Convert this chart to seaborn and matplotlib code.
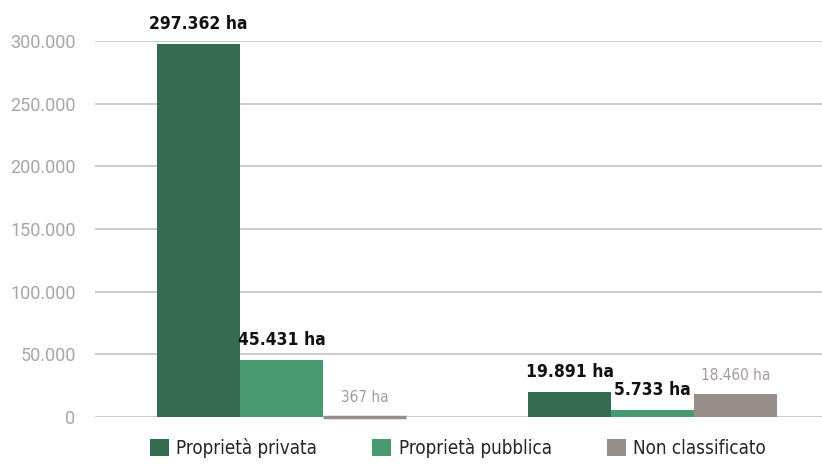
import matplotlib
matplotlib.use("Agg")
import matplotlib.pyplot as plt
import seaborn as sns
import pandas as pd

groups = ["Gruppo 1", "Gruppo 2"]
series = ["Proprietà privata", "Proprietà pubblica", "Non classificato"]
privata = [297362, 19891]
pubblica = [45431, 5733]
non_class = [367, 18460]
yticks = [0, 50000, 100000, 150000, 200000, 250000, 300000]

colors = ["#356C51", "#48996F", "#978E8C"]
label_colors = [["#111111", "#111111"], ["#111111", "#111111"], ["#A39B99", "#A39B99"]]

rows = []
for s, vals in zip(series, [privata, pubblica, non_class]):
    for g, v in zip(groups, vals):
        rows.append({"gruppo": g, "serie": s, "valore": v})
df = pd.DataFrame(rows)

def fmt(v):
    return f"{v:,}".replace(",", ".")

sns.set_style("white")
fig = plt.figure(figsize=(8.22, 4.68), dpi=100)
ax = fig.add_axes([95/822, 51/468, 1 - 95/822, 376/468])

sns.barplot(data=df, x="gruppo", y="valore", hue="serie", order=groups,
            hue_order=series, palette=colors, width=0.67, saturation=1,
            edgecolor="none", ax=ax, legend=True)

ax.set_ylim(0, 300000)
ax.set_xlim(-0.503, 1.457)
ax.set_yticks(yticks)
ax.set_yticklabels([fmt(t) for t in yticks], color="#A6A6A6", fontsize=13,
                   family="Roboto")
ax.set_xticks([])
ax.set_xlabel("")
ax.set_ylabel("")
ax.tick_params(axis="y", length=0, pad=14)
ax.grid(axis="y", color="#CCCCCC", linewidth=1.4)
ax.set_axisbelow(True)
for sp in ax.spines.values():
    sp.set_visible(False)

for i, cont in enumerate(ax.containers):
    vals = [privata, pubblica, non_class][i]
    for j, (bar, v) in enumerate(zip(cont, vals)):
        if v < 2000:
            # tiny bar: outline in its own colour so it stays visible
            bar.set_edgecolor(bar.get_facecolor())
            bar.set_linewidth(2.5)
            bar.set_clip_on(False)
            bar.set_zorder(5)
        bold = label_colors[i][j] == "#111111"
        ax.annotate(f"{fmt(v)} ha",
                    (bar.get_x() + bar.get_width() / 2, bar.get_height()),
                    xytext=(0, 8), textcoords="offset points",
                    ha="center", va="bottom", color=label_colors[i][j],
                    fontsize=12.5 if bold else 11,
                    fontweight="bold" if bold else "normal",
                    fontstretch="condensed", family="DejaVu Sans",
                    clip_on=False, annotation_clip=False)

handles, labels = ax.get_legend_handles_labels()
ax.get_legend().remove()
fig.legend(handles, labels, loc="lower center", bbox_to_anchor=(0.557, -0.014),
           ncol=3, frameon=False, handlelength=1.0, handleheight=1.0,
           handletextpad=0.4, columnspacing=2.95,
           prop={"family": "DejaVu Sans", "stretch": "condensed", "size": 13.5})

fig.savefig("out.png", dpi=100)
